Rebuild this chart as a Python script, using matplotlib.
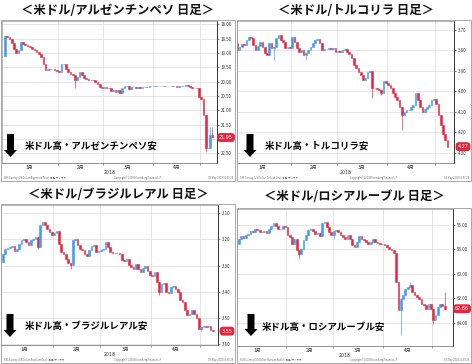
import numpy as np
import matplotlib
matplotlib.use('Agg')
import matplotlib.pyplot as plt
from matplotlib.patches import Rectangle, Polygon
from matplotlib.transforms import blended_transform_factory

plt.rcParams['font.family'] = ['Noto Sans CJK JP', 'DejaVu Sans']

# ---------------- data ----------------
month_labels = ['1月', '2月', '3月', '4月']
month_centers = [11, 33.5, 54.5, 76]          # business-day index
month_bounds = [23.5, 43.5, 65.5, 86.5]
year_label = '2018'

ars_open0 = 19.12
ars_close = [18.40, 18.45, 18.52, 18.65, 18.85, 19.00, 18.90, 18.62, 18.70, 18.72,
             18.76, 18.80, 18.85, 18.90, 18.95, 19.02, 19.13, 19.37, 19.60, 19.55,
             19.57, 19.56, 19.60, 19.62, 19.66, 19.40, 19.37, 19.55, 19.66, 19.72,
             19.78, 19.95, 19.84, 19.66, 19.78, 19.86, 19.90, 19.95, 19.93, 19.96,
             20.00, 20.07, 20.19, 20.24, 20.20, 20.22, 20.24, 20.33, 20.30, 20.35,
             20.30, 20.38, 20.22, 20.16, 20.15, 20.25, 20.18, 20.20, 20.21, 20.19,
             20.22, 20.20, 20.18, 20.20, 20.17, 20.15, 20.14, 20.15, 20.14, 20.16,
             20.15, 20.17, 20.16, 20.15, 20.17, 20.16, 20.18, 20.17, 20.16, 20.14,
             20.13, 20.17, 20.20, 20.22, 20.21, 20.23, 20.52, 20.60, 21.16, 22.33,
             22.30, 21.86, 21.95]
ars_wick_idx = [31, 89, 91, 92]
ars_wick_to = [20.23, 22.45, 21.57, 21.57]
ars_ticks = [18.0, 18.5, 19.0, 19.5, 20.0, 20.5, 21.0, 21.5, 22.0, 22.5]
ars_last = 21.95

try_open0 = 3.765
try_close = [3.798, 3.785, 3.770, 3.775, 3.749, 3.733, 3.741, 3.773, 3.798, 3.780,
             3.757, 3.782, 3.814, 3.822, 3.765, 3.790, 3.782, 3.741, 3.724, 3.749,
             3.760, 3.790, 3.782, 3.790, 3.733, 3.757, 3.790, 3.806, 3.798, 3.822,
             3.812, 3.798, 3.782, 3.765, 3.749, 3.745, 3.765, 3.798, 3.795, 3.793,
             3.790, 3.792, 3.790, 3.806, 3.805, 3.806, 3.800, 3.795, 3.808, 3.818,
             3.839, 3.871, 3.888, 3.904, 3.920, 3.945, 3.935, 3.905, 3.900, 3.985,
             3.985, 3.990, 3.995, 4.010, 3.950, 3.960, 3.967, 3.985, 4.010, 4.026,
             4.043, 4.075, 4.116, 4.100, 4.090, 4.090, 4.075, 4.067, 4.010, 4.043,
             4.075, 4.100, 4.085, 4.075, 4.067, 4.043, 4.035, 4.060, 4.116, 4.165,
             4.206, 4.238, 4.271]
try_wick_idx = [16, 30, 59, 63, 72]
try_wick_to = [3.847, 3.845, 4.033, 4.018, 4.19]
try_ticks = [3.7, 3.8, 3.9, 4.0, 4.1, 4.2, 4.3]
try_last = 4.27

brl_start = 2
brl_open0 = 3.287
brl_close = [3.255, 3.236, 3.232, 3.229, 3.226, 3.245, 3.236, 3.217, 3.204, 3.198,
             3.210, 3.220, 3.204, 3.198, 3.191, 3.229, 3.147, 3.134, 3.147, 3.160,
             3.172, 3.185, 3.175, 3.168, 3.217, 3.248, 3.255, 3.274, 3.290, 3.299,
             3.204, 3.198, 3.220, 3.236, 3.242, 3.255, 3.262, 3.242, 3.225, 3.223,
             3.250, 3.245, 3.240, 3.236, 3.210, 3.229, 3.248, 3.252, 3.253, 3.252,
             3.258, 3.280, 3.282, 3.274, 3.299, 3.306, 3.312, 3.293, 3.312, 3.325,
             3.310, 3.302, 3.320, 3.337, 3.340, 3.325, 3.363, 3.400, 3.369, 3.365,
             3.400, 3.405, 3.382, 3.378, 3.388, 3.400, 3.430, 3.440, 3.470, 3.490,
             3.485, 3.470, 3.485, 3.500, 3.540, 3.535, 3.530, 3.535, 3.530, 3.545,
             3.550]
brl_wick_idx = [17, 31, 69, 87]
brl_wick_to = [3.236, 3.312, 3.413, 3.548]
brl_ticks = [3.1, 3.2, 3.3, 3.4, 3.5, 3.6]
brl_last = 3.55

rub_start = 3
rub_open0 = 57.55
rub_close = [57.14, 56.90, 57.05, 56.85, 56.73, 56.50, 56.60, 56.35, 56.45, 56.60,
             56.62, 56.54, 56.70, 56.33, 56.10, 55.84, 56.10, 56.33, 56.38, 56.10,
             56.20, 56.87, 57.00, 57.55, 57.14, 58.10, 58.37, 57.96, 57.28, 56.87,
             56.46, 56.38, 56.55, 56.74, 56.70, 56.90, 55.85, 55.75, 56.20, 56.60,
             56.87, 56.50, 56.45, 56.60, 56.85, 57.00, 57.14, 56.87, 57.14, 57.69,
             57.85, 57.41, 56.90, 57.14, 57.28, 57.41, 57.55, 57.41, 57.20, 57.41,
             57.50, 57.55, 57.60, 57.69, 57.80, 57.96, 58.10, 58.30, 60.68, 62.99,
             62.04, 61.77, 61.22, 61.10, 60.95, 61.50, 61.77, 61.90, 62.04, 62.50,
             62.59, 62.86, 62.45, 62.86, 63.80, 63.40, 62.70, 62.45, 62.60, 62.86]
rub_wick_idx = [29, 44, 73, 77, 87, 92]
rub_wick_to = [58.78, 57.2, 65.03, 60.68, 64.1, 61.5]
rub_ticks = [56.0, 58.0, 60.0, 62.0, 64.0]
rub_last = 62.86

# ---------------- styling / layout ----------------
RED = '#e8243f'
BLUE = '#3d9cf0'
W, H = 472, 364


def fx(x):
    return x / W


def fy(y):
    return 1 - y / H


panels = [
    dict(title='＜米ドル/アルゼンチンペソ 日足＞', note='米ドル高・アルゼンチンペソ安',
         open0=ars_open0, close=ars_close, start=0, wick_idx=ars_wick_idx, wick_to=ars_wick_to,
         ticks=ars_ticks, last=ars_last, ylim=(22.84, 17.885), xlim=(-1.35, 94.0),
         rect=(2, 21, 217, 163), frame=(1, 20, 235, 181), title_xy=(118, 11),
         note_xy=(25, 146), arrow=(10.5, 134, 157),
         foot='ARS Curncy (US Dollar-Argentine Peso)  日足  ザイマネ'),
    dict(title='＜米ドル/トルコリラ 日足＞', note='米ドル高・トルコリラ安',
         open0=try_open0, close=try_close, start=0, wick_idx=try_wick_idx, wick_to=try_wick_to,
         ticks=try_ticks, last=try_last, ylim=(4.35, 3.656), xlim=(-0.1, 94.8),
         rect=(237, 21, 454, 163), frame=(237, 20, 471, 181), title_xy=(356, 11),
         note_xy=(265, 146), arrow=(250, 134, 157),
         foot='TRY Curncy (US Dollar-Turkish Lira)  日足  ザイマネ'),
    dict(title='＜米ドル/ブラジルレアル 日足＞', note='米ドル高・ブラジルレアル安',
         open0=brl_open0, close=brl_close, start=brl_start, wick_idx=brl_wick_idx,
         wick_to=brl_wick_to, ticks=brl_ticks, last=brl_last, ylim=(3.6027, 3.0695),
         xlim=(1.2, 94.2), rect=(1, 205, 218, 345), frame=(1, 204, 235, 363),
         title_xy=(118, 195), note_xy=(25, 326), arrow=(10, 314, 337),
         foot='BRL Curncy (US Dollar-Brazilian Real)  日足  ザイマネ'),
    dict(title='＜米ドル/ロシアルーブル 日足＞', note='米ドル高・ロシアルーブル安',
         open0=rub_open0, close=rub_close, start=rub_start, wick_idx=rub_wick_idx,
         wick_to=rub_wick_to, ticks=rub_ticks, last=rub_last, ylim=(65.9, 54.72),
         xlim=(2.2, 95.6), rect=(237, 209, 453, 346), frame=(237, 208, 471, 363),
         title_xy=(354, 196), note_xy=(262, 327), arrow=(251, 314, 336),
         foot='RUB Curncy (US Dollar-Russian Ruble)  日足  ザイマネ'),
]

fig = plt.figure(figsize=(4.72, 3.64), dpi=100)

for p in panels:
    L, T, R, B = p['rect']
    ax = fig.add_axes([fx(L), fy(B), (R - L) / W, (B - T) / H])
    close = np.array(p['close'])
    opens = np.concatenate([[p['open0']], close[:-1]])
    x = np.arange(len(close)) + p['start']
    colors = np.where(close >= opens, RED, BLUE)

    for i, v in zip(p['wick_idx'], p['wick_to']):
        k = i - p['start']
        lo = min(v, opens[k], close[k])
        hi = max(v, opens[k], close[k])
        ax.vlines(i, lo, hi, color=colors[k], lw=0.45, zorder=2)
    ax.bar(x, close - opens, bottom=opens, width=0.75, color=colors,
           edgecolor=colors, linewidth=0.4, zorder=3)

    ax.set_xlim(*p['xlim'])
    ax.set_ylim(*p['ylim'])

    # tick labels hidden behind the last-value badge are left blank
    span = abs(p['ticks'][1] - p['ticks'][0])
    labels = ['' if abs(t - p['last']) < 0.2 * span else '{:.2f}'.format(t)
              for t in p['ticks']]
    ax.set_yticks(p['ticks'])
    ax.set_yticklabels(labels)
    ax.yaxis.tick_right()
    ax.tick_params(axis='y', length=1.5, width=0.4, labelsize=3.2, pad=1.2,
                   colors='#333333')
    ax.set_xticks(month_centers)
    ax.set_xticklabels(month_labels)
    ax.set_xticks(month_bounds, minor=True)
    ax.tick_params(axis='x', which='major', length=0, labelsize=3.5, pad=1.5,
                   colors='#333333')
    ax.tick_params(axis='x', which='minor', length=1.5, width=0.4, color='#555555')
    ax.grid(axis='y', which='major', color='#dadada', lw=0.5, zorder=0)
    ax.grid(axis='x', which='minor', color='#dadada', lw=0.5, zorder=0)
    ax.set_axisbelow(True)
    for s in ['top', 'left']:
        ax.spines[s].set_color('#9a9a9a')
        ax.spines[s].set_linewidth(0.5)
    ax.spines['right'].set_color('#333333')
    ax.spines['right'].set_linewidth(0.7)
    ax.spines['bottom'].set_color('#666666')
    ax.spines['bottom'].set_linewidth(0.5)

    # year label
    ax.text(0.5, -9.5 / (B - T), year_label, transform=ax.transAxes, ha='center',
            va='center', fontsize=3.4, color='#333333', family=['DejaVu Sans'])

    # last value badge
    tr = blended_transform_factory(ax.transAxes, ax.transData)
    ax.text(1 + 9.0 / (R - L), p['last'], '{:.2f}'.format(p['last']), transform=tr,
            ha='center', va='center', fontsize=3.5, color='white',
            family=['DejaVu Sans'], clip_on=False, zorder=10,
            bbox=dict(boxstyle='round,pad=0.4,rounding_size=0.7', fc=RED, ec='none'))

    # frame
    fl, ft, fr, fb = p['frame']
    fig.add_artist(Rectangle((fx(fl), fy(fb)), (fr - fl) / W, (fb - ft) / H,
                             transform=fig.transFigure, fill=False, ec='#9a9a9a', lw=0.6))

    # footer
    fig.text(fx(fl + 3), fy(fb - 3), p['foot'], fontsize=1.8, color='#666666',
             ha='left', va='center')
    fig.text(fx((fl + fr) / 2 + 20), fy(fb - 3), 'Copyright© 2018 Bloomberg Finance L.P.',
             fontsize=1.8, color='#666666', ha='center', va='center')
    fig.text(fx(fr - 2), fy(fb - 3), '08-May-2018 16:33:28', fontsize=1.8,
             color='#666666', ha='right', va='center')

    # title
    tx, ty = p['title_xy']
    fig.text(fx(tx), fy(ty), p['title'], ha='center', va='center', fontsize=8.9,
             fontweight='bold', color='#111111')

    # note + arrow
    nx, ny = p['note_xy']
    fig.text(fx(nx), fy(ny), p['note'], ha='left', va='center', fontsize=6.8,
             fontweight='bold', color='black')
    cx, at, ab = p['arrow']
    hb = ab - 7
    pts = [(cx - 3.5, at), (cx + 3.5, at), (cx + 3.5, hb), (cx + 6.5, hb), (cx, ab),
           (cx - 6.5, hb), (cx - 3.5, hb)]
    fig.add_artist(Polygon([(fx(a), fy(b)) for a, b in pts], closed=True,
                           transform=fig.transFigure, fc='black', ec='none'))

fig.savefig('out.png', dpi=100)
